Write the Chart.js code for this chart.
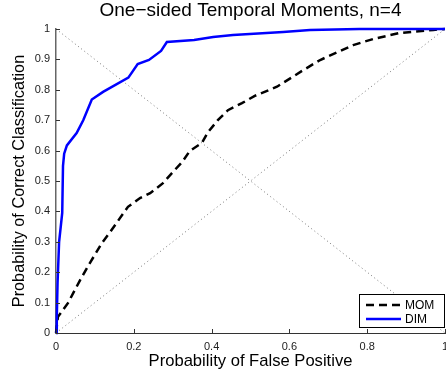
<!DOCTYPE html>
<html>
<head>
<meta charset="utf-8">
<script src="https://cdn.jsdelivr.net/npm/chart.js@4"></script>
<style>
html, body { margin: 0; padding: 0; background: #fff; }
</style>
</head>
<body>
<canvas id="rocChart" width="446" height="379"></canvas>
<script>
// ROC curves
var momFalsePos = [0, 0.005, 0.031, 0.062, 0.087, 0.118, 0.139, 0.185, 0.216, 0.242, 0.275, 0.298, 0.324, 0.344, 0.375, 0.391, 0.416, 0.442, 0.478, 0.511, 0.568, 0.636, 0.679, 0.764, 0.815, 0.884, 0.97, 1];
var momCorrect  = [0, 0.053, 0.099, 0.174, 0.23, 0.296, 0.332, 0.415, 0.444, 0.46, 0.493, 0.526, 0.562, 0.599, 0.625, 0.661, 0.70, 0.733, 0.756, 0.78, 0.81, 0.865, 0.898, 0.947, 0.967, 0.987, 0.997, 1];

var dimFalsePos = [0, 0.002, 0.004, 0.008, 0.016, 0.018, 0.021, 0.028, 0.053, 0.07, 0.092, 0.121, 0.186, 0.21, 0.239, 0.27, 0.285, 0.355, 0.404, 0.455, 0.584, 0.653, 0.78, 1];
var dimCorrect  = [0, 0.05, 0.165, 0.30, 0.395, 0.55, 0.59, 0.617, 0.658, 0.70, 0.768, 0.793, 0.84, 0.885, 0.898, 0.928, 0.957, 0.964, 0.974, 0.98, 0.99, 0.997, 1, 1];

// chance diagonals
var diagUpX = [0, 1], diagUpY = [0, 1];
var diagDownX = [0, 1], diagDownY = [1, 0];

var xTickValues = [0, 0.2, 0.4, 0.6, 0.8, 1];
var xTickLabels = ['0', '0.2', '0.4', '0.6', '0.8', '1'];
var yTickValues = [0, 0.1, 0.2, 0.3, 0.4, 0.5, 0.6, 0.7, 0.8, 0.9, 1];
var yTickLabels = ['0', '0.1', '0.2', '0.3', '0.4', '0.5', '0.6', '0.7', '0.8', '0.9', '1'];

var legendNames = ['MOM', 'DIM'];

function toPoints(xs, ys) {
    return xs.map(function (x, i) { return { x: x, y: ys[i] }; });
}

var fontFamily = "'Liberation Sans', Arial, Helvetica, sans-serif";

// inward tick marks (matlab style) + legend box in the lower right
var axisExtras = {
    id: 'axisExtras',
    afterDraw: function (chart) {
        var ctx = chart.ctx;
        var area = chart.chartArea;
        var xs = chart.scales.x, ys = chart.scales.y;
        ctx.save();
        ctx.strokeStyle = '#333';
        ctx.lineWidth = 1;
        ctx.beginPath();
        xTickValues.forEach(function (v) {
            var px = Math.round(xs.getPixelForValue(v)) + 0.5;
            ctx.moveTo(px, area.bottom);
            ctx.lineTo(px, area.bottom - 4);
        });
        yTickValues.forEach(function (v) {
            var py = Math.round(ys.getPixelForValue(v)) + 0.5;
            ctx.moveTo(area.left, py);
            ctx.lineTo(area.left + 4, py);
        });
        ctx.stroke();

        // legend
        var w = 86, h = 34;
        var lx = area.right - w, ly = area.bottom - 5 - h;
        ctx.fillStyle = '#fff';
        ctx.fillRect(lx, ly, w, h);
        ctx.strokeStyle = '#000';
        ctx.strokeRect(lx + 0.5, ly + 0.5, w - 1, h - 1);
        ctx.font = '12px ' + fontFamily;
        ctx.textBaseline = 'middle';
        ctx.textAlign = 'left';
        legendNames.forEach(function (name, i) {
            var ds = chart.data.datasets[i];
            var yy = ly + 11 + i * 14;
            ctx.strokeStyle = ds.borderColor;
            ctx.lineWidth = ds.borderWidth;
            ctx.setLineDash(ds.borderDash || []);
            ctx.beginPath();
            ctx.moveTo(lx + 7, yy);
            ctx.lineTo(lx + 42, yy);
            ctx.stroke();
            ctx.setLineDash([]);
            ctx.fillStyle = '#000';
            ctx.fillText(name, lx + 46, yy + 0.5);
        });
        ctx.restore();
    }
};

var ctx = document.getElementById('rocChart').getContext('2d');
var rocChart = new Chart(ctx, {
    type: 'scatter',
    data: {
        datasets: [{
            label: legendNames[0],
            data: toPoints(momFalsePos, momCorrect),
            showLine: true,
            borderColor: '#000',
            borderWidth: 2.5,
            borderDash: [8, 5],
            pointRadius: 0,
            fill: false,
            clip: 4,
            order: 2
        }, {
            label: legendNames[1],
            data: toPoints(dimFalsePos, dimCorrect),
            showLine: true,
            borderColor: '#0000ff',
            borderWidth: 2.5,
            pointRadius: 0,
            fill: false,
            clip: 4,
            order: 1
        }, {
            label: 'chance',
            data: toPoints(diagUpX, diagUpY),
            showLine: true,
            borderColor: '#777',
            borderWidth: 1,
            borderDash: [1, 3],
            pointRadius: 0,
            order: 3
        }, {
            label: 'chance2',
            data: toPoints(diagDownX, diagDownY),
            showLine: true,
            borderColor: '#777',
            borderWidth: 1,
            borderDash: [1, 3],
            pointRadius: 0,
            order: 3
        }]
    },
    options: {
        responsive: false,
        animation: false,
        devicePixelRatio: 1,
        layout: { padding: { left: 0, right: 1, top: 0, bottom: 0 } },
        plugins: {
            legend: { display: false },
            tooltip: { enabled: false },
            title: {
                display: true,
                text: 'One\u2212sided Temporal Moments, n=4',
                fullSize: false,
                color: '#000',
                font: { family: fontFamily, size: 19, weight: 'normal', lineHeight: 1 },
                padding: { top: 1.5, bottom: 8.5 }
            }
        },
        scales: {
            x: {
                type: 'linear',
                min: 0,
                max: 1,
                afterBuildTicks: function (scale) {
                    scale.ticks = xTickValues.map(function (v) { return { value: v }; });
                },
                afterFit: function (scale) {
                    scale.height = 46;
                    scale.paddingLeft = 0;
                    scale.paddingRight = 0;
                },
                grid: { drawOnChartArea: false, drawTicks: false },
                border: { display: true, color: '#333', width: 1 },
                ticks: {
                    padding: 7,
                    maxRotation: 0,
                    color: '#222',
                    font: { family: fontFamily, size: 11 },
                    callback: function (value, i) { return xTickLabels[i]; }
                },
                title: {
                    display: true,
                    text: 'Probability of False Positive',
                    color: '#000',
                    font: { family: fontFamily, size: 16.6 },
                    padding: { top: 0, bottom: 7.5 }
                }
            },
            y: {
                type: 'linear',
                min: 0,
                max: 1,
                afterBuildTicks: function (scale) {
                    scale.ticks = yTickValues.map(function (v) { return { value: v }; });
                },
                afterFit: function (scale) {
                    scale.width = 56;
                    scale.paddingTop = 0;
                    scale.paddingBottom = 0;
                },
                grid: { drawOnChartArea: false, drawTicks: false },
                border: { display: true, color: '#666', width: 1.5 },
                ticks: {
                    padding: 6,
                    color: '#222',
                    font: { family: fontFamily, size: 11 },
                    callback: function (value, i) { return yTickLabels[i]; }
                },
                title: {
                    display: true,
                    text: 'Probability of Correct Classification',
                    color: '#000',
                    font: { family: fontFamily, size: 16.3 },
                    padding: { top: 9.7, bottom: 0 }
                }
            }
        }
    },
    plugins: [axisExtras]
});
</script>
</body>
</html>
